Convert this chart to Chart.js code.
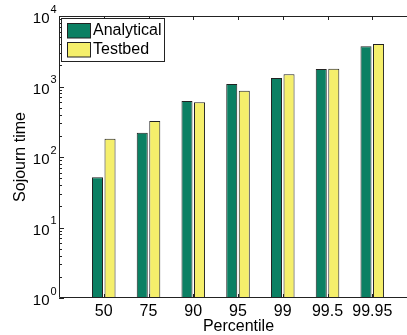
<!DOCTYPE html>
<html>
<head>
<meta charset="utf-8">
<script src="https://cdn.jsdelivr.net/npm/chart.js@4.4.0/dist/chart.umd.min.js"></script>
<style>
  html, body { margin: 0; padding: 0; background: #fff; overflow: hidden; }
  canvas { display: block; }
</style>
</head>
<body>
<canvas id="grafico" width="407" height="335"></canvas>
<script>
// valores
const percentis = ['50', '75', '90', '95', '99', '99.5', '99.95'];
const analytical = [51.5, 221, 623, 1085, 1320, 1770, 3715];
const testbed = [182, 324, 597, 872, 1490, 1790, 4010];
const decadas = [1, 10, 100, 1000, 10000];
const expoentes = ['0', '1', '2', '3', '4'];

const verde = '#0b8063';
const amarelo = '#f5ef6b';
const linha = '#222222';
const fonte = '"Liberation Sans", Arial, Helvetica, sans-serif';

Chart.defaults.font.family = fonte;
Chart.defaults.font.size = 16;
Chart.defaults.color = '#000';

function pontos(valores) {
  return valores.map((v, i) => ({ x: i + 1, y: v }));
}

// eixos, ticks para dentro e legenda no estilo matlab
const eixosMatlab = {
  id: 'eixosMatlab',
  afterDatasetsDraw(chart) {
    const ctx = chart.ctx;
    const area = chart.chartArea;
    const x = chart.scales.x;
    const y = chart.scales.y;
    ctx.save();
    ctx.strokeStyle = linha;
    ctx.lineWidth = 1;

    // moldura (lado direito cortado)
    ctx.beginPath();
    ctx.moveTo(area.right, area.top + 0.5);
    ctx.lineTo(area.left + 0.5, area.top + 0.5);
    ctx.lineTo(area.left + 0.5, area.bottom - 0.5);
    ctx.lineTo(area.right, area.bottom - 0.5);
    ctx.stroke();

    // ticks do eixo x, em cima e embaixo
    ctx.beginPath();
    for (let i = 0; i < percentis.length; i++) {
      const px = Math.round(x.getPixelForValue(i + 1)) + 0.5;
      ctx.moveTo(px, area.bottom);
      ctx.lineTo(px, area.bottom - 4);
      ctx.moveTo(px, area.top);
      ctx.lineTo(px, area.top + 4);
    }
    ctx.stroke();

    // ticks do eixo y (maiores e menores)
    ctx.beginPath();
    for (let d = 0; d < decadas.length; d++) {
      const py = Math.round(y.getPixelForValue(decadas[d])) + 0.5;
      ctx.moveTo(area.left, py);
      ctx.lineTo(area.left + 5, py);
      if (d < decadas.length - 1) {
        for (let m = 2; m <= 9; m++) {
          const pm = Math.round(y.getPixelForValue(decadas[d] * m)) + 0.5;
          ctx.moveTo(area.left, pm);
          ctx.lineTo(area.left + 3, pm);
        }
      }
    }
    ctx.stroke();

    // rotulos do eixo y: 10 com expoente
    ctx.fillStyle = '#000';
    for (let d = 0; d < decadas.length; d++) {
      const py = y.getPixelForValue(decadas[d]);
      ctx.font = '15px ' + fonte;
      ctx.textAlign = 'right';
      ctx.textBaseline = 'alphabetic';
      ctx.fillText('10', 49.5, py + 7);
      ctx.font = '11px ' + fonte;
      ctx.textAlign = 'left';
      ctx.fillText(expoentes[d], 50.5, py - 3.5);
    }

    // titulo do eixo x (centrado no eixo inteiro do matlab, que passa da borda)
    ctx.font = '16px ' + fonte;
    ctx.textAlign = 'center';
    ctx.textBaseline = 'alphabetic';
    ctx.fillText('Percentile', 238.5, 331);

    // legenda
    ctx.fillStyle = '#fff';
    ctx.fillRect(61.5, 18.5, 103, 43);
    ctx.strokeRect(61.5, 18.5, 103, 43);
    const itens = chart.data.datasets;
    const ys = [23.5, 42.5];
    for (let i = 0; i < itens.length; i++) {
      ctx.fillStyle = itens[i].backgroundColor;
      ctx.fillRect(67.5, ys[i], 23, 14.5);
      ctx.strokeRect(67.5, ys[i], 23, 14.5);
      ctx.fillStyle = '#000';
      ctx.font = '16px ' + fonte;
      ctx.textAlign = 'left';
      ctx.textBaseline = 'middle';
      ctx.fillText(itens[i].label, 93, ys[i] + 7.5);
    }
    ctx.restore();
  }
};

const dados = {
  datasets: [
    {
      label: 'Analytical',
      data: pontos(analytical),
      backgroundColor: verde,
      borderColor: linha,
      borderWidth: 1,
      categoryPercentage: 0.56,
      barPercentage: 0.88
    },
    {
      label: 'Testbed',
      data: pontos(testbed),
      backgroundColor: amarelo,
      borderColor: linha,
      borderWidth: 1,
      categoryPercentage: 0.56,
      barPercentage: 0.88
    }
  ]
};

const config = {
  type: 'bar',
  data: dados,
  options: {
    responsive: false,
    animation: false,
    devicePixelRatio: 1,
    layout: { padding: { top: 16, right: 0, left: 0, bottom: 0 } },
    plugins: {
      legend: { display: false },
      tooltip: { enabled: false }
    },
    scales: {
      x: {
        type: 'linear',
        offset: false,
        min: 0,
        max: 7.776,
        grid: { display: false, offset: false, drawTicks: false, tickLength: 0 },
        border: { display: false },
        afterBuildTicks: (scale) => {
          scale.ticks = percentis.map((p, i) => ({ value: i + 1 }));
        },
        afterFit: (scale) => { scale.height = 37; },
        ticks: {
          autoSkip: false,
          maxRotation: 0,
          padding: 4,
          color: '#000',
          font: { size: 16 },
          callback: (v) => percentis[v - 1] || ''
        }
      },
      y: {
        type: 'logarithmic',
        min: 1,
        max: 10000,
        grid: { display: false },
        border: { display: false },
        afterBuildTicks: (scale) => {
          scale.ticks = decadas.map((v) => ({ value: v }));
        },
        afterFit: (scale) => { scale.width = 59; },
        ticks: { display: false },
        title: {
          display: true,
          text: 'Sojourn time',
          color: '#000',
          font: { size: 16 },
          padding: { top: 11, bottom: 0 }
        }
      }
    }
  },
  plugins: [eixosMatlab]
};

let meuGrafico = new Chart(document.getElementById('grafico'), config);
</script>
</body>
</html>
